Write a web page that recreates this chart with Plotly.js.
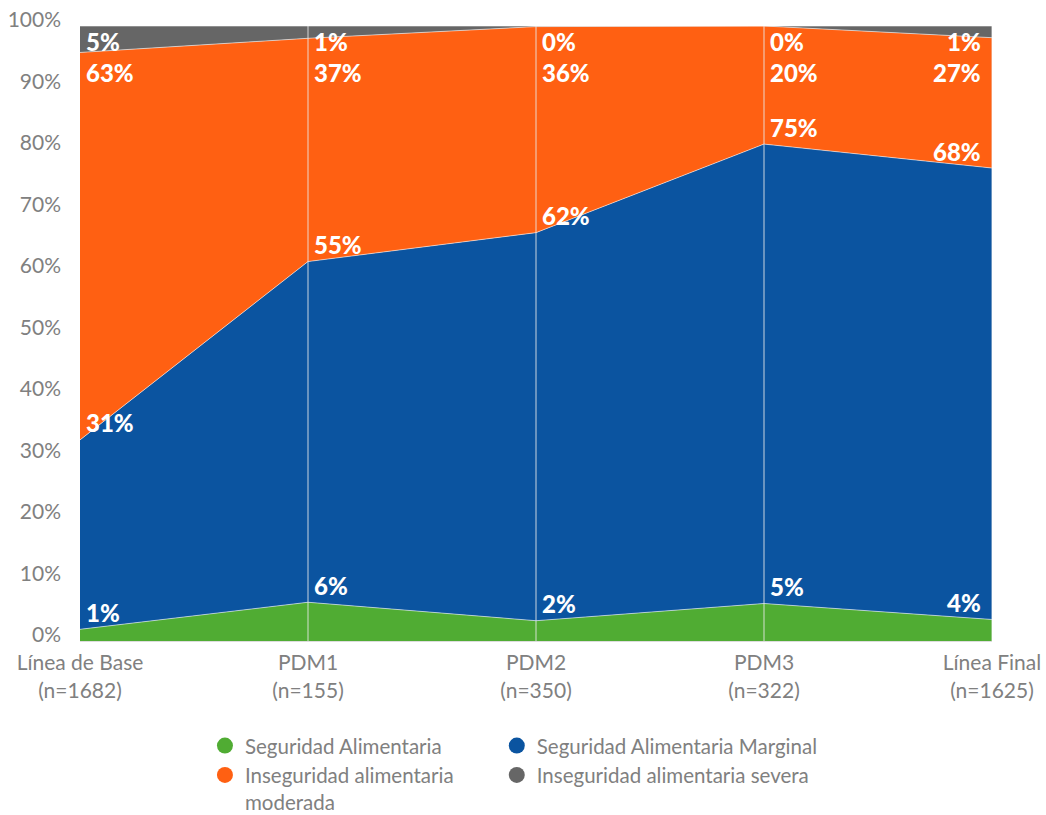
<!DOCTYPE html>
<html>
<head>
<meta charset="utf-8">
<script src="https://cdn.plot.ly/plotly-3.0.1.min.js"></script>
<style>
html,body{margin:0;padding:0;background:#fff;}
#chart{width:1046px;height:815px;}
</style>
</head>
<body>
<div id="chart"></div>
<script>
// Categories and tick labels
const categories = ['Línea de Base', 'PDM1', 'PDM2', 'PDM3', 'Línea Final'];
const sampleSizes = ['(n=1682)', '(n=155)', '(n=350)', '(n=322)', '(n=1625)'];

// Series values (read from the drawn area heights, %)
const seguridad = [1.9, 6.3, 3.3, 6.1, 3.5];
const marginal  = [30.8, 55.4, 63.1, 74.7, 73.4];
const moderada  = [63.0, 36.3, 33.5, 19.2, 21.2];
const severa    = [4.3, 2.0, 0.1, 0.0, 1.9];

// Data label texts as printed on the chart
const labSeguridad = ['1%', '6%', '2%', '5%', '4%'];
const labMarginal  = ['31%', '55%', '62%', '75%', '68%'];
const labModerada  = ['63%', '37%', '36%', '20%', '27%'];
const labSevera    = ['5%', '1%', '0%', '0%', '1%'];

const seriesNames = ['Seguridad Alimentaria', 'Seguridad Alimentaria Marginal',
  'Inseguridad alimentaria<br>moderada', 'Inseguridad alimentaria severa'];
const colors = ['#50AC33', '#0B54A0', '#FF6012', '#666666'];

const seriesVals = [seguridad, marginal, moderada, severa];

const traces = [];
seriesVals.forEach((vals, k) => {
  traces.push({
    type: 'scatter', mode: 'lines', x: categories, y: vals,
    stackgroup: 'one', fillcolor: colors[k],
    line: {width: 1, color: 'rgba(255,255,255,0.55)'},
    showlegend: false, hoverinfo: 'skip'
  });
});
// legend entries (round symbols), one legend box per entry (2x2 grid)
const legendIds = ['legend', 'legend2', 'legend3', 'legend4'];
seriesVals.forEach((vals, k) => {
  traces.push({
    type: 'scatter', mode: 'markers', x: [null], y: [null],
    name: seriesNames[k], legend: legendIds[k],
    marker: {size: 16, color: colors[k], symbol: 'circle'},
    showlegend: true
  });
});

const labelFont = {family: 'Lato, "DejaVu Sans", sans-serif', size: 24, color: '#ffffff', weight: 900};
const annotations = [];
categories.forEach((c, i) => {
  const last = i === categories.length - 1;
  const xa = last ? 'right' : 'left';
  const xs = last ? -9 : 4;
  const cumSeg = seguridad[i];
  const cumMar = seguridad[i] + marginal[i];
  const base = {x: c, xref: 'x', yref: 'y', showarrow: false, xanchor: xa, xshift: xs,
                yanchor: 'middle', font: labelFont};
  annotations.push(Object.assign({}, base, {y: cumSeg, yshift: 17, text: labSeguridad[i]}));
  annotations.push(Object.assign({}, base, {y: cumMar, yshift: 17, text: labMarginal[i]}));
  annotations.push(Object.assign({}, base, {y: 100, yshift: -46, text: labModerada[i]}));
  annotations.push(Object.assign({}, base, {y: 100, yshift: -15, text: labSevera[i]}));
});

const shapes = categories.slice(1).map(c => ({
  type: 'line', xref: 'x', yref: 'paper', x0: c, x1: c, y0: 0, y1: 1,
  line: {color: 'rgba(235,235,235,0.85)', width: 1}, layer: 'above'
}));

const tickFont = {family: 'Lato, "DejaVu Sans", sans-serif', size: 21, color: '#808080'};
const legFont = {family: 'Lato, "DejaVu Sans", sans-serif', size: 20.5, color: '#808080'};
const legCommon = {orientation: 'v', xanchor: 'left', yanchor: 'top', yref: 'container',
  font: legFont, valign: 'top', bgcolor: 'rgba(0,0,0,0)', borderwidth: 0};

const layout = {
  width: 1046, height: 815,
  margin: {l: 80, r: 54, t: 26, b: 174},
  paper_bgcolor: '#ffffff', plot_bgcolor: '#ffffff',
  showlegend: true,
  xaxis: {
    type: 'category', range: [0, categories.length - 1],
    tickvals: categories,
    ticktext: categories.map((c, i) => c + '<br>' + sampleSizes[i]),
    showgrid: false, zeroline: false,
    showline: true, linecolor: '#dddddd', linewidth: 1, layer: 'above traces',
    tickfont: tickFont, ticks: '', ticklabelstandoff: 3
  },
  yaxis: {
    range: [0, 100], tickvals: [0,10,20,30,40,50,60,70,80,90,100],
    ticktext: ['0%','10%','20%','30%','40%','50%','60%','70%','80%','90%','100%'],
    showgrid: false, zeroline: false, showline: false,
    tickfont: tickFont, ticks: '', ticklabelstandoff: 18, ticklabelshift: -6
  },
  legend:  Object.assign({}, legCommon, {x: 0.137, y: 0.1095}),
  legend2: Object.assign({}, legCommon, {x: 0.457, y: 0.1095}),
  legend3: Object.assign({}, legCommon, {x: 0.137, y: 0.0735}),
  legend4: Object.assign({}, legCommon, {x: 0.457, y: 0.0735}),
  annotations: annotations,
  shapes: shapes
};

Plotly.newPlot('chart', traces, layout, {displayModeBar: false, staticPlot: true});
</script>
</body>
</html>
